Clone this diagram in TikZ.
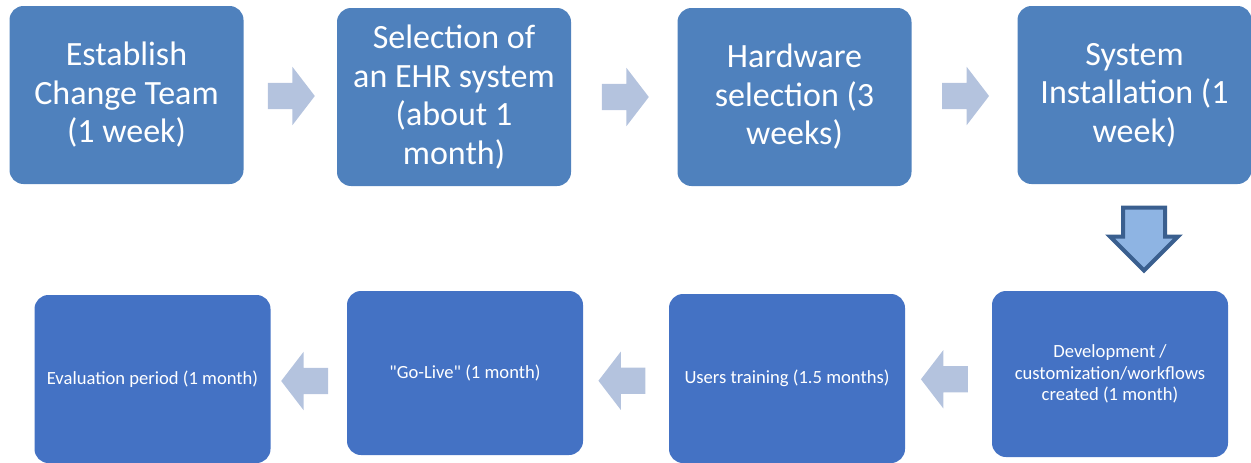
\documentclass[tikz,border=0pt]{standalone}
\usepackage{fontspec}
\setmainfont{Carlito}[Ligatures=TeXOff]
\usetikzlibrary{shapes.arrows,calc}
\definecolor{topblue}{RGB}{79,129,189}
\definecolor{lowblue}{RGB}{68,114,196}
\definecolor{paleblue}{RGB}{180,195,222}
\definecolor{downfill}{RGB}{142,180,227}
\definecolor{downline}{RGB}{58,95,143}
\begin{document}
\begin{tikzpicture}[x=1pt,y=-1pt]
  \tikzstyle{topstep}=[rectangle, rounded corners=14pt, fill=topblue, text=white, minimum width=234pt, minimum height=178pt, align=center, font=\fontsize{34}{38.5}\selectfont, inner sep=0pt]
  \tikzstyle{lowstep}=[rectangle, rounded corners=14pt, fill=lowblue, text=white, minimum width=236pt, minimum height=166pt, align=center, font=\fontsize{18.6}{21.5}\selectfont, inner sep=0pt]
  \tikzstyle{flowarrow}=[single arrow, fill=paleblue, minimum height=47pt, minimum width=58pt, inner xsep=0pt, inner ysep=13pt, single arrow head extend=16pt, single arrow tip angle=105]
  \useasboundingbox (0,0) rectangle (1251,463);

  % Top row
  \node[topstep] (team) at (126.5,95) {Establish\\Change Team\\(1 week)};
  \node[topstep] (ehr) at (454,97) {Selection of\\an EHR system\\(about 1\\month)};
  \node[topstep] (hw) at (794.5,97) {Hardware\\selection (3\\weeks)};
  \node[topstep] (inst) at (1134.5,95) {System\\Installation (1\\week)};

  % Bottom row
  \node[lowstep] (dev) at (1110,374) {Development /\\customization/workflows\\created (1 month)};
  \node[lowstep, minimum height=169pt] (train) at (787,378.5) {Users training (1.5 months)};
  \node[lowstep, minimum height=164pt] (golive) at (465,373) {"Go-Live" (1 month)};
  \node[lowstep, minimum height=168pt] (eval) at (152.5,379) {Evaluation period (1 month)};

  % Arrows between steps
  \node[flowarrow] (a1) at ($(team.east)!0.5!(ehr.west)+(-4,0)$) {};
  \node[flowarrow] (a2) at ($(ehr.east)!0.5!(hw.west)+(-4,0)$) {};
  \node[flowarrow] (a3) at ($(hw.east)!0.5!(inst.west)+(-4,0)$) {};
  \node[single arrow, shape border rotate=270, fill=downfill, draw=downline, line width=4pt, minimum height=63pt, minimum width=64pt, inner xsep=19pt, inner ysep=0pt, single arrow head extend=13pt, single arrow tip angle=90] (down) at (1144,228.5) {};
  \node[flowarrow, shape border rotate=180] (b1) at ($(dev.west)!0.5!(train.east)+(1,3)$) {};
  \node[flowarrow, shape border rotate=180] (b2) at ($(train.west)!0.5!(golive.east)+(1,5)$) {};
  \node[flowarrow, shape border rotate=180] (b3) at ($(golive.west)!0.5!(eval.east)+(1,5)$) {};
\end{tikzpicture}
\end{document}
